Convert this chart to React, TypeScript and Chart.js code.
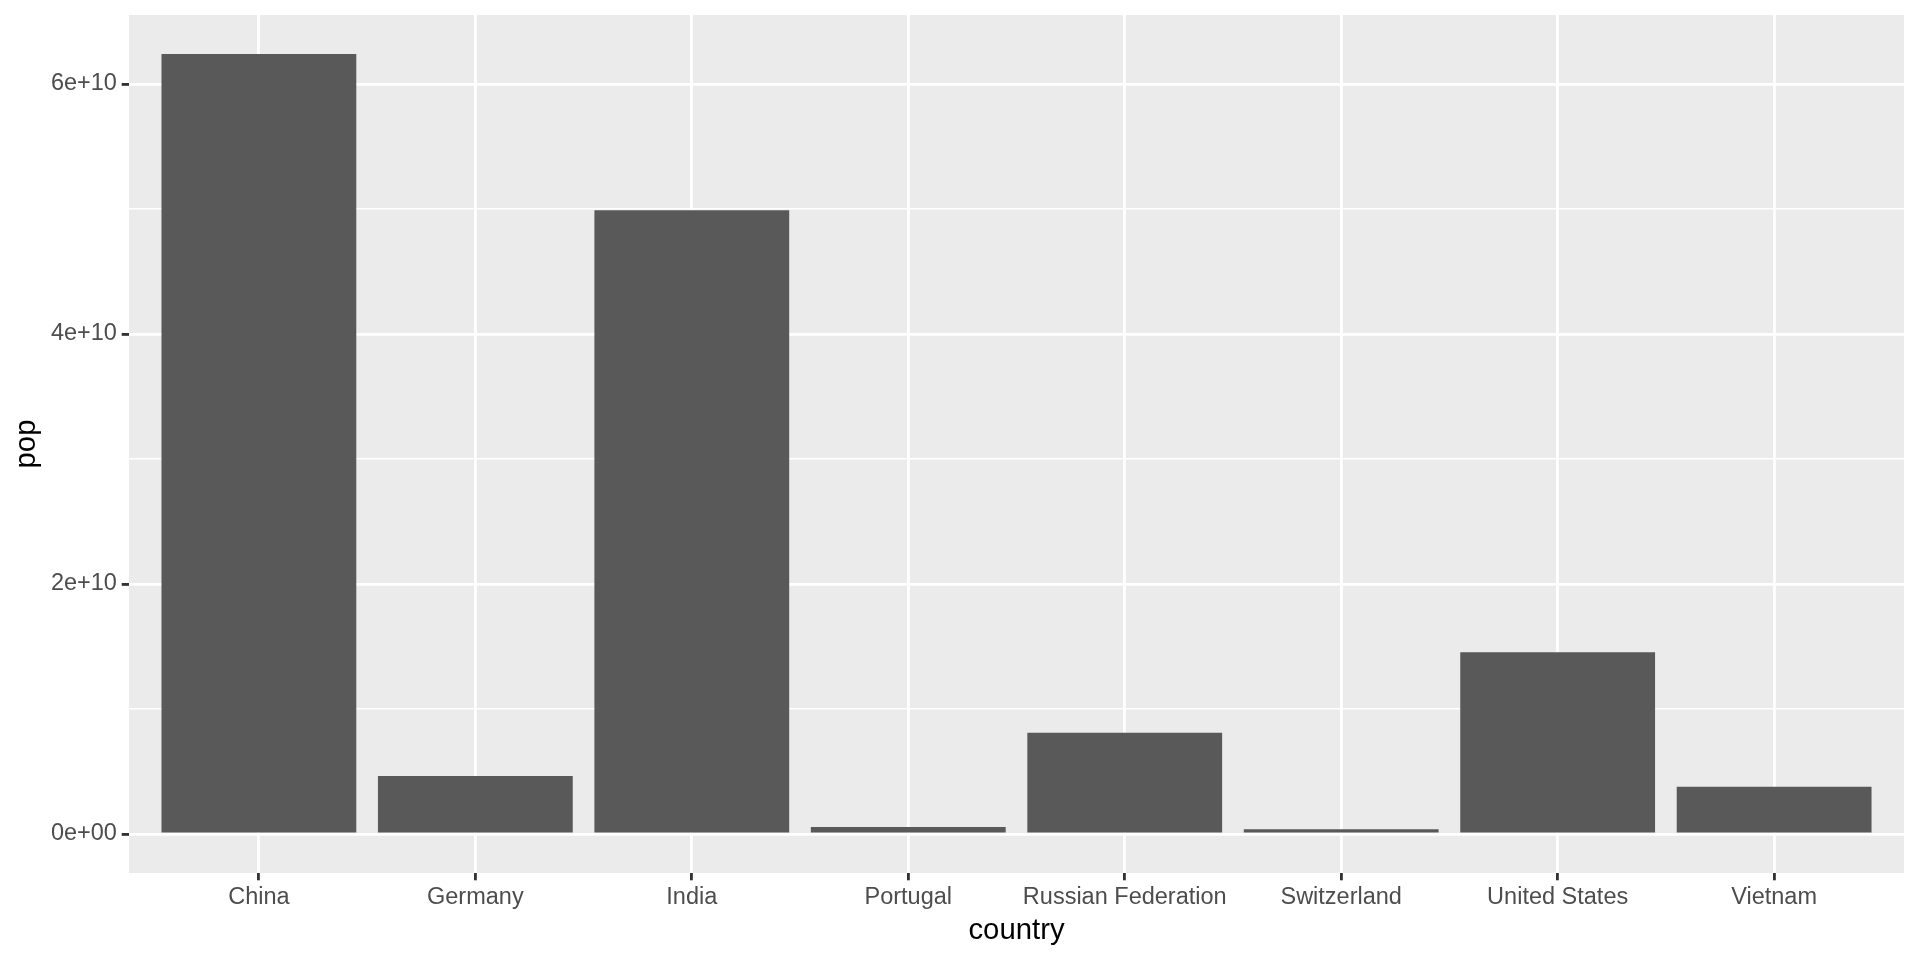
import React, { useEffect, useRef } from "react";
import { Chart, registerables } from "chart.js";

Chart.register(...registerables);

const categories = ["China", "Germany", "India", "Portugal", "Russian Federation", "Switzerland", "United States", "Vietnam"];
const popValues = [6.24e10, 4.65e9, 4.99e10, 5.7e8, 8.1e9, 3.9e8, 1.455e10, 3.78e9];
const yMajorTicks = [0, 2e10, 4e10, 6e10];
const yTickLabels = ["0e+00", "2e+10", "4e+10", "6e+10"];
const yMinorTicks = [1e10, 3e10, 5e10];
const xTitle = "country";
const yTitle = "pop";

const FONT = "'Liberation Sans', Arial, Helvetica, sans-serif";
const MAJOR_W = 2.84;
const MINOR_W = 1.42;

const panelBg = {
  id: "panelBg",
  beforeDraw(chart: any) {
    const { ctx, chartArea } = chart;
    ctx.save();
    ctx.fillStyle = "#FFFFFF";
    ctx.fillRect(0, 0, chart.width, chart.height);
    ctx.fillStyle = "#EBEBEB";
    ctx.fillRect(chartArea.left, chartArea.top, chartArea.right - chartArea.left, chartArea.bottom - chartArea.top);
    ctx.restore();
  },
};

export default function App() {
  const ref = useRef<HTMLCanvasElement | null>(null);

  useEffect(() => {
    if (!ref.current) return;
    const maxVal = Math.max(...popValues);
    const yMin = -0.05 * maxVal;
    const yMax = 1.05 * maxVal;
    const allY = [...yMajorTicks, ...yMinorTicks].sort((a, b) => a - b);
    const isMajor = (v: number) => yMajorTicks.includes(v);

    const chart: any = new Chart(ref.current, {
      type: "bar",
      data: {
        datasets: [
          {
            data: categories.map((c, i) => ({ x: i + 1, y: popValues[i] })),
            backgroundColor: "#595959",
            borderWidth: 0,
            barPercentage: 0.9,
            categoryPercentage: 1,
          },
        ],
      },
      options: {
        animation: false,
        responsive: false,
        layout: { padding: { left: 0, top: 15, right: 16, bottom: 0 } },
        plugins: { legend: { display: false }, tooltip: { enabled: false } },
        scales: {
          x: {
            type: "linear",
            offset: false,
            min: 0.4,
            max: categories.length + 0.6,
            afterFit(scale: any) {
              scale.height = 87;
              scale.paddingLeft = 0;
              scale.paddingRight = 0;
            },
            afterBuildTicks(scale: any) {
              scale.ticks = categories.map((_, i) => ({ value: i + 1 }));
            },
            ticks: {
              autoSkip: false,
              maxRotation: 0,
              padding: 3,
              color: "#4D4D4D",
              font: { family: FONT, size: 23.5 },
              callback: (v: any) => categories[Math.round(Number(v)) - 1] ?? "",
            },
            grid: {
              offset: false,
              color: "#FFFFFF",
              lineWidth: MAJOR_W,
              tickColor: "#333333",
              tickWidth: MAJOR_W,
              tickLength: 7.3,
            },
            border: { display: false },
            title: {
              display: true,
              text: xTitle,
              color: "#000000",
              font: { family: FONT, size: 29.3 },
              padding: { top: 0, bottom: 12 },
            },
          },
          y: {
            type: "linear",
            min: yMin,
            max: yMax,
            afterFit(scale: any) {
              scale.width = 129;
              scale.paddingTop = 0;
              scale.paddingBottom = 0;
            },
            afterBuildTicks(scale: any) {
              scale.ticks = allY.map((v) => ({ value: v }));
            },
            ticks: {
              autoSkip: false,
              padding: 4.8,
              color: "#4D4D4D",
              font: { family: FONT, size: 23.5 },
              callback: (v: any) => {
                const idx = yMajorTicks.indexOf(Number(v));
                return idx >= 0 ? yTickLabels[idx] : "";
              },
            },
            grid: {
              color: "#FFFFFF",
              lineWidth: (ctx: any) => (isMajor(ctx.tick?.value) ? MAJOR_W : MINOR_W),
              tickColor: (ctx: any) => (isMajor(ctx.tick?.value) ? "#333333" : "rgba(0,0,0,0)"),
              tickWidth: MAJOR_W,
              tickLength: 7.3,
            },
            border: { display: false },
            title: {
              display: true,
              text: yTitle,
              color: "#000000",
              font: { family: FONT, size: 29.3 },
              padding: { top: 9, bottom: 0 },
            },
          },
        },
      },
      plugins: [panelBg],
    } as any);
    return () => chart.destroy();
  }, []);

  return (
    <div style={{ position: "absolute", left: 0, top: 0, width: 1920, height: 960, background: "#fff" }}>
      <canvas ref={ref} width={1920} height={960} style={{ display: "block", width: 1920, height: 960 }} />
    </div>
  );
}
